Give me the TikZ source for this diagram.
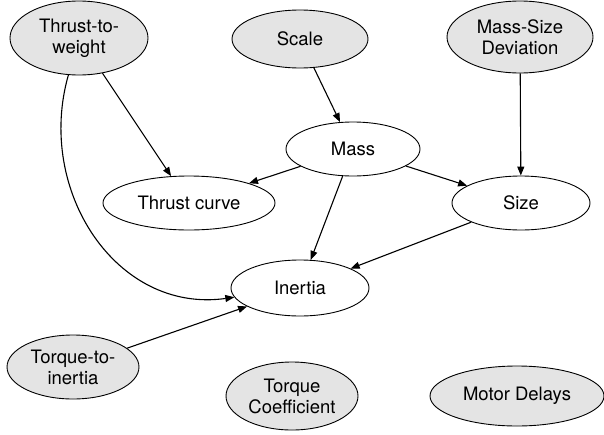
\documentclass[tikz,border=0pt]{standalone}
\usepackage{fontspec}
\setmainfont{TeX Gyre Heros}
\usetikzlibrary{arrows.meta,shapes.geometric}
\definecolor{nodegray}{HTML}{E4E4E4}
\begin{document}
\begin{tikzpicture}[x=1pt,y=-1pt,
  base/.style={ellipse,draw=black,line width=0.9pt,inner sep=0pt,
    font=\fontsize{18.5}{21}\selectfont,align=center},
  src/.style={base,fill=nodegray},
  mid/.style={base,fill=white},
  edge/.style={line width=1.1pt,-{Triangle[length=9pt,width=7pt]}}]
\useasboundingbox (0,0) rectangle (604,434);
\node[src,minimum width=138,minimum height=74] (tw) at (79,38) {Thrust-to-\\weight};
\node[src,minimum width=136,minimum height=58] (scale) at (300,39) {Scale};
\node[src,minimum width=146,minimum height=72] (msd) at (520,37) {Mass-Size\\Deviation};
\node[mid,minimum width=134,minimum height=54] (mass) at (353,149) {Mass};
\node[mid,minimum width=172,minimum height=54] (tc) at (189,203) {Thrust curve};
\node[mid,minimum width=138,minimum height=54] (size) at (521,203) {Size};
\node[mid,minimum width=138,minimum height=56] (inertia) at (300,288) {Inertia};
\node[src,minimum width=132,minimum height=64] (tti) at (73,367) {Torque-to-\\inertia};
\node[src,minimum width=132,minimum height=68] (tcoef) at (292,396) {Torque\\Coefficient};
\node[src,minimum width=174,minimum height=60] (md) at (517,396) {Motor Delays};
\draw[edge] (tw) -- (tc);
\draw[edge] (tw) to[out=-106,in=188,looseness=1.1] (inertia);
\draw[edge] (scale) -- (mass);
\draw[edge] (msd) -- (size);
\draw[edge] (mass) -- (tc);
\draw[edge] (mass) -- (size);
\draw[edge] (mass) -- (inertia);
\draw[edge] (size) -- (inertia);
\draw[edge] (tti) -- (inertia);
\end{tikzpicture}
\end{document}
